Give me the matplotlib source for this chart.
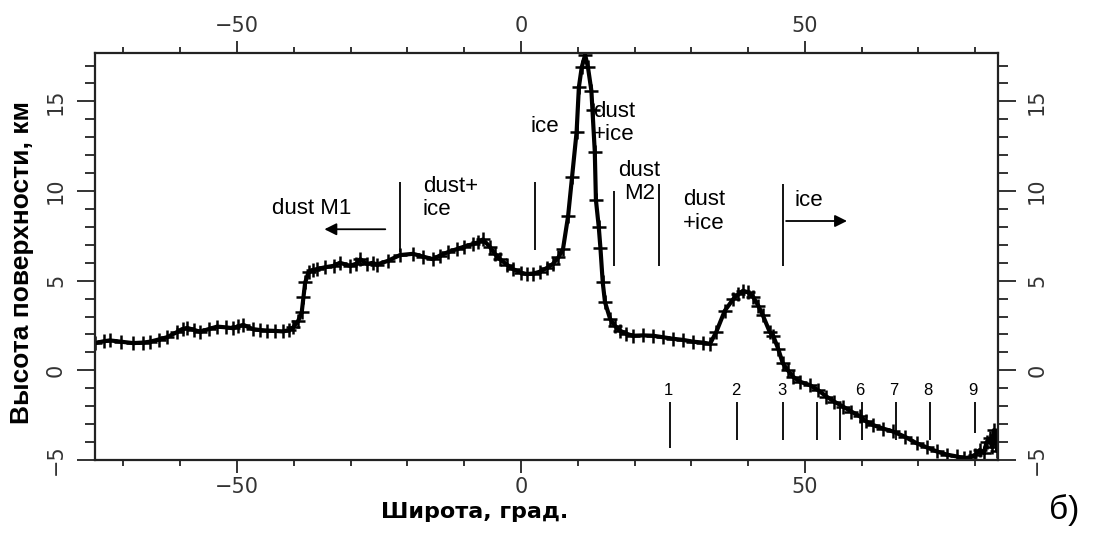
import matplotlib.pyplot as plt
from matplotlib.ticker import MultipleLocator

# surface profile
lat = [-75.0, -73.5, -72.4, -70.5, -68.3, -66.5, -65.3, -63.8, -62.3, -60.6,
       -59.5, -58.8, -57.5, -56.5, -55.0, -53.5, -52.0, -50.7, -49.8, -48.9,
       -47.2, -46.0, -44.7, -43.3, -41.9, -40.8, -40.1, -39.2, -38.6, -38.3,
       -38.0, -37.4, -36.6, -35.9, -34.5, -33.0, -31.9, -30.1, -29.0, -28.3,
       -27.1, -26.1, -25.4, -23.5, -21.3, -19.0, -17.3, -15.5, -14.3, -12.8,
       -11.3, -10.0, -8.5, -7.5, -6.7, -5.5, -4.6, -3.7, -2.5, -1.4,
       0.0, 1.0, 2.2, 3.3, 4.5, 5.6, 6.6, 7.4, 8.3, 9.0,
       9.8, 10.2, 10.7, 11.3, 11.8, 12.4, 12.6, 13.0, 13.2, 13.7,
       14.0, 14.4, 14.8, 15.7, 16.5, 17.4, 18.5, 19.7, 21.5, 23.3,
       25.0, 26.8, 28.5, 30.3, 32.0, 33.3, 34.4, 35.9, 37.4, 38.3,
       39.1, 40.0, 40.9, 41.8, 42.6, 43.8, 44.4, 45.3, 46.1, 47.0,
       47.9, 49.1, 50.9, 52.3, 53.8, 55.2, 56.7, 58.2, 59.7, 60.8,
       62.0, 63.8, 65.5, 67.6, 69.7, 71.5, 73.2, 75.0, 76.7, 78.0,
       79.1, 80.0, 80.8, 81.5, 82.0, 82.6, 83.0, 83.3, 83.6, 83.9, 84.0]
height = [1.52, 1.62, 1.67, 1.60, 1.52, 1.55, 1.60, 1.72, 1.85, 2.13,
          2.30, 2.37, 2.25, 2.15, 2.30, 2.44, 2.40, 2.35, 2.45, 2.54,
          2.30, 2.25, 2.22, 2.20, 2.17, 2.25, 2.40, 2.78, 3.26, 4.10,
          4.90, 5.47, 5.60, 5.65, 5.75, 5.83, 6.00, 5.83, 5.95, 6.20,
          5.93, 6.00, 5.90, 6.10, 6.43, 6.50, 6.35, 6.20, 6.40, 6.60,
          6.76, 6.90, 7.04, 7.15, 7.30, 6.90, 6.50, 6.20, 5.90, 5.65,
          5.45, 5.37, 5.40, 5.50, 5.70, 5.93, 6.30, 6.76, 8.60, 10.80,
          13.30, 15.80, 16.90, 17.60, 16.90, 15.60, 14.50, 12.20, 9.50, 8.00,
          6.80, 4.90, 3.80, 2.87, 2.50, 2.22, 2.05, 1.93, 1.95, 1.93,
          1.85, 1.76, 1.70, 1.60, 1.55, 1.48, 2.15, 3.33, 3.98, 4.25,
          4.44, 4.35, 4.09, 3.60, 3.06, 2.15, 1.94, 1.20, 0.40, 0.00,
          -0.35, -0.63, -0.83, -1.10, -1.46, -1.75, -2.02, -2.30, -2.57, -2.85,
          -3.05, -3.25, -3.41, -3.70, -4.07, -4.30, -4.52, -4.70, -4.80, -4.90,
          -4.85, -4.70, -4.44, -4.60, -4.00, -3.80, -4.30, -3.33, -3.60, -4.50, -4.10]

# zone boundaries (upper vertical lines)
zone_lat = [-21.3, 2.5, 16.4, 24.3, 46.2]
zone_top = [10.5, 10.5, 10.0, 10.4, 10.4]
zone_bottom = [6.6, 6.7, 5.8, 5.8, 5.8]

zone_text = ['dust M1', 'dust+\nice', 'ice', 'dust\n+ice', 'dust\nM2', 'dust\n+ice', 'ice']
zone_text_x = [-36.9, -17.3, 4.2, 12.7, 20.9, 28.5, 48.2]
zone_text_y = [9.0, 9.6, 13.6, 13.8, 10.5, 8.85, 9.5]
zone_text_ha = ['center', 'left', 'center', 'left', 'center', 'left', 'left']

# numbered sites (lower vertical lines)
site_lat = [26.2, 38.1, 46.2, 52.2, 56.2, 60.0, 66.0, 72.0, 79.9]
site_name = ['1', '2', '3', '', '', '6', '7', '8', '9']
site_bottom = [-4.35, -3.9, -3.9, -3.9, -3.9, -3.9, -3.9, -3.9, -3.5]

fig = plt.figure(figsize=(10.95, 5.36), dpi=100)
ax = fig.add_axes([0.0868, 0.1418, 0.8246, 0.7593])

ax.plot(lat, height, color='black', lw=3, marker='+', ms=10, mew=1.8)

ax.set_xlim(-75, 84)
ax.set_ylim(-5, 17.7)

ax.xaxis.set_major_locator(MultipleLocator(50))
ax.xaxis.set_minor_locator(MultipleLocator(10))
ax.yaxis.set_major_locator(MultipleLocator(5))
ax.yaxis.set_minor_locator(MultipleLocator(1))
ax.tick_params(axis='x', which='both', direction='out', top=True, labeltop=True,
               colors='#333333', labelsize=15, width=1.4)
ax.tick_params(axis='x', which='major', length=9, pad=3)
ax.tick_params(axis='x', which='minor', length=4)
ax.tick_params(axis='y', which='both', direction='out', right=True, labelright=True,
               colors='#333333', labelsize=15, width=1.4, labelrotation=90)
ax.tick_params(axis='y', which='major', length=13, pad=8)
ax.tick_params(axis='y', which='minor', length=7)
for lab in ax.get_yticklabels():
    lab.set_verticalalignment('center')
for sp in ax.spines.values():
    sp.set_linewidth(1.6)
    sp.set_color('#222222')

ann_font = dict(fontsize=16, family=['Liberation Sans', 'DejaVu Sans'], color='black')

ax.vlines(zone_lat, zone_bottom, zone_top, color='black', lw=1.3)
for t, x, y, ha in zip(zone_text, zone_text_x, zone_text_y, zone_text_ha):
    ax.text(x, y, t, ha=ha, va='center', linespacing=1.15, **ann_font)

ax.annotate('', xy=(-35.1, 7.87), xytext=(-23.4, 7.87),
            arrowprops=dict(arrowstyle='-|>', color='black', lw=1.3, mutation_scale=18))
ax.annotate('', xy=(57.9, 8.33), xytext=(46.2, 8.33),
            arrowprops=dict(arrowstyle='-|>', color='black', lw=1.3, mutation_scale=18))

ax.vlines(site_lat, site_bottom, -1.75, color='black', lw=1.3)
for x, n in zip(site_lat, site_name):
    ax.text(x - 0.3, -1.1, n, ha='center', va='center', fontsize=12,
            family=['Liberation Sans', 'DejaVu Sans'])

fig.text(0.433, 0.033, 'Широта, град.', ha='center', va='baseline',
         fontsize=16, fontweight='bold')
# clipped copy of the axis title at the very top edge
fig.text(0.41, 1.022, 'Широта, град.', ha='center', va='baseline',
         fontsize=16, fontweight='bold')
fig.text(0.020, 0.511, 'Высота поверхности, км', rotation=90, ha='center', va='center',
         fontsize=19, fontweight='bold',
         family=['Liberation Sans Narrow', 'Liberation Sans', 'DejaVu Sans'])
fig.text(0.972, 0.048, 'б)', ha='center', va='center', fontsize=24,
         family=['Liberation Sans', 'DejaVu Sans'])

fig.savefig('out.png', dpi=100)
